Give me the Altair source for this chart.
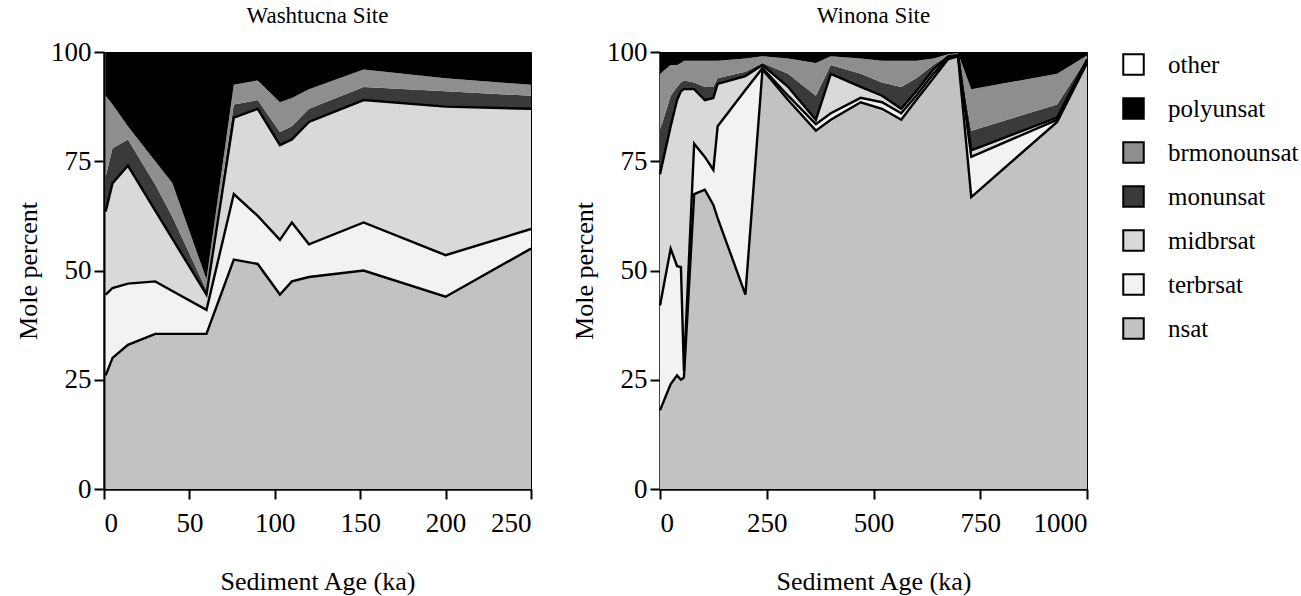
import altair as alt
import pandas as pd

FONT = "Liberation Serif, Times New Roman, serif"

LEGEND_ORDER = ["other", "polyunsat", "brmonounsat", "monunsat", "midbrsat", "terbrsat", "nsat"]
LEGEND_COLORS = ["#ffffff", "#000000", "#8e8e8e", "#3a3a3a", "#d9d9d9", "#f2f2f2", "#c2c2c2"]
STACK_ORDER = ["nsat", "terbrsat", "midbrsat", "monunsat", "brmonounsat", "polyunsat", "other"]

# ---- Washtucna Site (mole percent per component) ----
wash_age = [1, 5, 14, 30, 40, 60, 76, 90, 103, 110, 120, 152, 200, 250]
wash_nsat = [26, 30, 33, 35.5, 35.5, 35.5, 52.5, 51.5, 44.5, 47.5, 48.5, 50, 44, 55]
wash_terbrsat = [18.5, 16, 14, 12, 9.8, 5.5, 15, 11, 12.5, 13.5, 7.5, 11, 9.5, 4.5]
wash_midbrsat = [19, 24, 27, 16.2, 12, 3.5, 17.5, 24.5, 21.7, 19, 28, 28, 34, 27.5]
wash_monunsat = [8, 8, 6, 6, 5, 1, 3, 2, 3, 3, 3, 3, 3.5, 3]
wash_brmonounsat = [18.5, 10, 3, 5.3, 7.7, 2.5, 4.5, 4.5, 6.8, 6.5, 4.5, 4, 3, 2.5]
wash_polyunsat = [10, 12, 17, 25, 30, 52, 7.5, 6.5, 11.5, 10.5, 8.5, 4, 6, 7.5]
wash_other = [0] * 14

# ---- Winona Site ----
win_age = [0, 25, 40, 49, 56, 80, 105, 125, 135, 200, 240, 300, 365, 400, 470, 520,
           565, 600, 640, 675, 698, 729, 930, 1000]
win_nsat = [18, 24, 26, 25, 25.5, 67.5, 68.5, 65, 62, 44.5, 96, 89, 82, 84.5, 88.5, 87,
            84.5, 89, 94, 98.4, 99, 66.8, 84, 97.5]
win_terbrsat = [24, 31, 25, 25.8, 1.5, 11.5, 7.5, 8, 21, 46.8, 0.3, 1, 1.5, 1.5, 1, 1.5,
                1.5, 1, 1, 0.3, 0.2, 9.2, 0.5, 0.5]
win_midbrsat = [30, 28, 38, 40.2, 64.5, 12.5, 13, 16.5, 9.7, 3.2, 0.7, 2, 1, 9, 2.5, 1.5,
                1, 1, 1, 0.3, 0.1, 1.5, 0.5, 0.3]
win_monunsat = [10, 7, 3, 2, 2, 1.5, 3, 2.5, 1.3, 1, 0.5, 3, 5.5, 2, 3, 3,
                5, 3, 1, 0.2, 0.2, 4.5, 3, 0.3]
win_brmonounsat = [13, 7, 5, 4.5, 4.5, 5, 6, 6, 4, 3, 1.5, 3.5, 7.5, 2, 3.5, 5,
                   6, 4, 1.5, 0.3, 0.2, 9.5, 7, 0.6]
win_polyunsat = [5, 3, 3, 2.5, 2, 2, 2, 2, 2, 1.5, 1, 1.5, 2.5, 1, 1.5, 2,
                 2, 2, 1.5, 0.5, 0.3, 8.5, 5, 0.8]
win_other = [0] * 24


def to_long(ages, series):
    rows = []
    for name, vals in series.items():
        for a, v in zip(ages, vals):
            rows.append({"age": a, "series": name, "value": v,
                         "order": STACK_ORDER.index(name)})
    return pd.DataFrame(rows)


wash_df = to_long(wash_age, {
    "nsat": wash_nsat, "terbrsat": wash_terbrsat, "midbrsat": wash_midbrsat,
    "monunsat": wash_monunsat, "brmonounsat": wash_brmonounsat,
    "polyunsat": wash_polyunsat, "other": wash_other})
win_df = to_long(win_age, {
    "nsat": win_nsat, "terbrsat": win_terbrsat, "midbrsat": win_midbrsat,
    "monunsat": win_monunsat, "brmonounsat": win_brmonounsat,
    "polyunsat": win_polyunsat, "other": win_other})


def panel(df, title, xmax, xticks):
    base = alt.Chart(df).transform_stack(
        stack="value", groupby=["age"], as_=["y0", "y1"],
        sort=[alt.SortField(field="order", order="ascending")])
    x = alt.X("age:Q", scale=alt.Scale(domain=[0, xmax], nice=False, zero=True),
              axis=alt.Axis(values=xticks, format="d", title="Sediment Age (ka)",
                            labelPadding=11, titlePadding=32))
    area = base.mark_area(interpolate="linear").encode(
        x=x,
        y=alt.Y("y0:Q", scale=alt.Scale(domain=[0, 100], nice=False),
                axis=alt.Axis(values=[0, 25, 50, 75, 100], title="Mole percent",
                              titlePadding=9)),
        y2="y1:Q",
        color=alt.Color("series:N",
                        scale=alt.Scale(domain=LEGEND_ORDER, range=LEGEND_COLORS),
                        legend=alt.Legend(title=None, orient="right", offset=28,
                                          symbolType="square", symbolSize=420,
                                          symbolStrokeColor="black", symbolStrokeWidth=2,
                                          labelFont=FONT, labelFontSize=25,
                                          labelColor="black", rowPadding=15,
                                          labelOffset=22)),
    )
    lines = base.transform_filter(
        alt.FieldOneOfPredicate(field="series", oneOf=["nsat", "terbrsat", "midbrsat"])
    ).mark_line(color="black", strokeWidth=2.4).encode(
        x=x, y="y1:Q", detail="series:N")
    return alt.layer(area, lines).properties(
        width=427, height=437,
        title=alt.TitleParams(title, font=FONT, fontSize=23, fontWeight="normal",
                              color="black", offset=10))


left = panel(wash_df, "Washtucna Site", 250, [0, 50, 100, 150, 200, 250])
right = panel(win_df, "Winona Site", 1000, [0, 250, 500, 750, 1000])

chart = alt.hconcat(left, right, spacing=34).properties(
    padding={"left": 15, "top": 4, "right": 2, "bottom": 2},
    background="white",
).configure_view(stroke="black", strokeWidth=1).configure_axis(
    domainColor="black", domainWidth=2.5, tickColor="black", tickWidth=2,
    tickSize=10, labelFont=FONT, labelFontSize=27, labelColor="black",
    labelPadding=3, titleFont=FONT, titleFontSize=26, titleFontWeight="normal",
    titleColor="black", grid=False)

chart.save("out.html", embed_options={"renderer": "svg", "actions": False})
